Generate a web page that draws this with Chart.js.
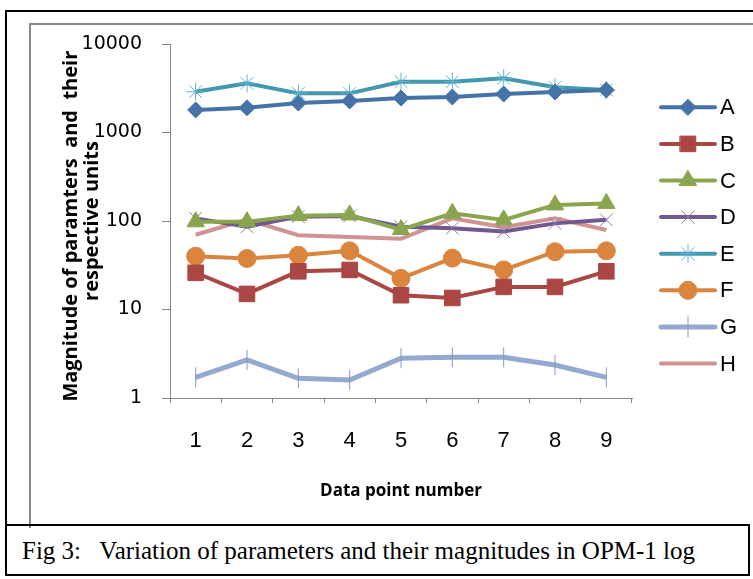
<!DOCTYPE html>
<html>
<head>
<meta charset="utf-8">
<script src="https://cdn.jsdelivr.net/npm/chart.js@4.4.0/dist/chart.umd.min.js"></script>
<style>
  html, body { margin: 0; padding: 0; background: #fff; }
  body { width: 753px; height: 579px; position: relative; overflow: hidden; }
  #outer { position: absolute; left: 5px; top: 10px; width: 900px; height: 520px; border-left: 2px solid #000; border-top: 2px solid #000; }
  #inner { position: absolute; left: 29px; top: 23px; width: 900px; height: 503px; border-left: 2px solid #888; border-top: 2px solid #888; }
  #caption { position: absolute; left: 5px; top: 524px; width: 726px; height: 48px; border: 2px solid #000;
    font-family: "Liberation Serif", "Times New Roman", serif; font-size: 25px; color: #000; line-height: 50px; padding-left: 15px; box-sizing: content-box; white-space: pre; }
  #chart { position: absolute; left: 0; top: 0; }
</style>
</head>
<body>
<div id="outer"></div>
<div id="inner"></div>
<div id="caption">Fig 3:   Variation of parameters and their magnitudes in OPM-1 log</div>
<canvas id="chart" width="753" height="579"></canvas>
<script>
// ---- data ----
const categories = ['1', '2', '3', '4', '5', '6', '7', '8', '9'];
const seriesNames = ['A', 'B', 'C', 'D', 'E', 'F', 'G', 'H'];
const valuesA = [1800, 1900, 2150, 2270, 2450, 2520, 2720, 2870, 3020];
const valuesB = [26, 15, 27, 28, 14.5, 13.5, 18, 18, 27];
const valuesC = [98, 98, 115, 117, 80, 122, 103, 152, 158];
const valuesD = [107, 86, 112, 114, 86, 83, 76, 94, 103];
const valuesE = [2890, 3590, 2770, 2770, 3750, 3750, 4100, 3240, 3020];
const valuesF = [40, 37.7, 41, 46, 22.5, 38, 28, 45, 46];
const valuesG = [1.71, 2.69, 1.67, 1.6, 2.81, 2.88, 2.88, 2.36, 1.71];
const valuesH = [70, 104, 69, 66, 63, 107, 85, 107, 79];
const yTickValues = [1, 10, 100, 1000, 10000];
const yTitle = ['Magnitude of paramters  and  their  ', 'respective units'];
const xTitle = 'Data point number';

const allValues = [valuesA, valuesB, valuesC, valuesD, valuesE, valuesF, valuesG, valuesH];

// ---- styles ----
const styles = [
  { color: '#4572A7', fill: '#4572A7', mark: '#4572A7', pointStyle: 'rectRot', radius: 8, bw: 1, lw: 4 },
  { color: '#AA4643', fill: '#AA4643', mark: '#AA4643', pointStyle: 'rect', radius: 11, bw: 1, lw: 4 },
  { color: '#89A54E', fill: '#89A54E', mark: '#89A54E', pointStyle: 'triangle', radius: 10, bw: 1, lw: 4 },
  { color: '#71588F', fill: '#71588F', mark: '#8C78AE', pointStyle: 'crossRot', radius: 9, bw: 1, lw: 4 },
  { color: '#4198AF', fill: '#4198AF', mark: '#5DB3CB', pointStyle: 'star', radius: 9, bw: 1, lw: 4 },
  { color: '#DB843D', fill: '#DB843D', mark: '#DB843D', pointStyle: 'circle', radius: 9, bw: 1, lw: 4 },
  { color: '#93A9CF', fill: '#93A9CF', mark: '#7F9CC8', pointStyle: 'line', radius: 10, bw: 1, lw: 5, rotation: 90 },
  { color: '#D19392', fill: '#D19392', mark: '#D19392', pointStyle: 'circle', radius: 0, bw: 0, lw: 4 }
];

const datasets = seriesNames.map((name, i) => ({
  label: name,
  data: allValues[i],
  borderColor: styles[i].color,
  backgroundColor: styles[i].fill,
  borderWidth: styles[i].lw,
  pointStyle: styles[i].pointStyle,
  pointRadius: styles[i].radius,
  pointRotation: styles[i].rotation || 0,
  pointBackgroundColor: styles[i].fill,
  pointBorderColor: styles[i].mark,
  pointBorderWidth: styles[i].bw,
  tension: 0,
  fill: false
}));

const sideLegend = {
  id: 'sideLegend',
  afterDraw(chart) {
    const ctx = chart.ctx;
    const top = 107.3, step = 36.6, x0 = 661, x1 = 715, mx = 688, tx = 720;
    chart.data.datasets.forEach((ds, i) => {
      const y = top + i * step;
      ctx.save();
      ctx.strokeStyle = ds.borderColor;
      ctx.lineWidth = ds.borderWidth;
      ctx.lineCap = 'round';
      ctx.beginPath(); ctx.moveTo(x0, y); ctx.lineTo(x1, y); ctx.stroke();
      if (ds.pointRadius > 0) {
        ctx.fillStyle = ds.pointBackgroundColor;
        ctx.strokeStyle = ds.pointBorderColor;
        ctx.lineWidth = ds.pointBorderWidth;
        const opts = { pointStyle: ds.pointStyle, rotation: ds.pointRotation || 0, radius: ds.pointRadius, borderWidth: ds.pointBorderWidth };
        if (Chart.helpers && Chart.helpers.drawPoint) {
          Chart.helpers.drawPoint(ctx, opts, mx, y);
        } else {
          ctx.beginPath(); ctx.arc(mx, y, ds.pointRadius * 0.8, 0, Math.PI * 2); ctx.fill();
        }
      }
      ctx.fillStyle = '#000';
      ctx.font = '22px "Liberation Sans", Arial, sans-serif';
      ctx.textBaseline = 'middle';
      ctx.textAlign = 'left';
      ctx.fillText(ds.label, tx, y + 1);
      ctx.restore();
    });
  }
};

const axisGray = '#868686';

new Chart(document.getElementById('chart'), {
  type: 'line',
  data: { labels: categories, datasets: datasets },
  plugins: [sideLegend],
  options: {
    responsive: false,
    animation: false,
    events: [],
    layout: { padding: { top: 44, right: 121, left: 0, bottom: 71 } },
    plugins: { legend: { display: false }, tooltip: { enabled: false }, title: { display: false } },
    scales: {
      x: {
        type: 'category',
        offset: true,
        grid: { offset: true, drawOnChartArea: false, drawTicks: true, tickLength: 5, color: axisGray, lineWidth: 1 },
        border: { display: true, color: axisGray, width: 1 },
        ticks: { color: '#000', font: { family: '"Liberation Sans", Arial, sans-serif', size: 22 }, padding: 25, maxRotation: 0, autoSkip: false },
        title: { display: true, text: xTitle, color: '#000', font: { family: '"Open Sans", sans-serif', size: 17, weight: 'bold', lineHeight: 1.2 }, padding: { top: 0, bottom: 7 } },
        afterFit(scale) { scale.height = 110; }
      },
      y: {
        type: 'logarithmic',
        min: 1,
        max: 10000,
        afterBuildTicks(scale) { scale.ticks = yTickValues.map(v => ({ value: v })); },
        grid: { drawOnChartArea: false, drawTicks: true, tickLength: 8, color: axisGray, lineWidth: 1 },
        border: { display: true, color: axisGray, width: 1 },
        ticks: { color: '#000', font: { family: '"DejaVu Sans", sans-serif', size: 19 }, padding: 20, callback: (v) => String(v) },
        title: { display: true, text: yTitle, color: '#000', font: { family: '"Open Sans", sans-serif', size: 20, weight: 'bold', lineHeight: 1.05 }, padding: { top: 61, bottom: 0 } },
        afterFit(scale) { scale.width = 170; }
      }
    }
  }
});
</script>
</body>
</html>
